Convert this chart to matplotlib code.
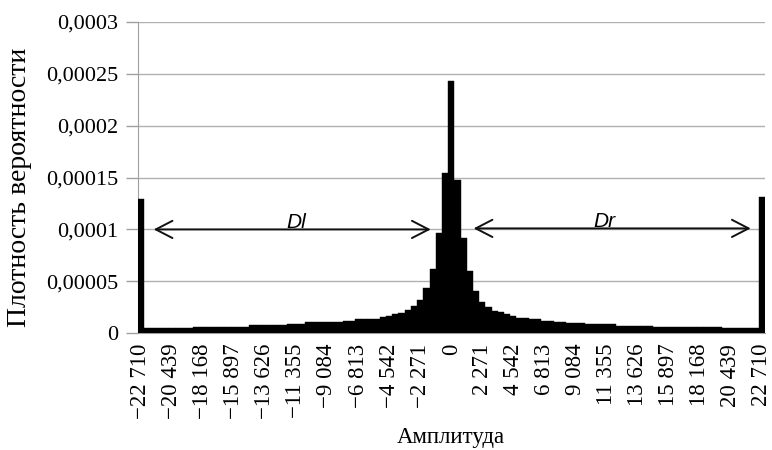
import numpy as np
import matplotlib
matplotlib.use("Agg")
import matplotlib.pyplot as plt

# Bar heights (probability density), 101 bins from -22710 to 22710
density = [
    129.3e-6,                                                     # -22710
    5.0e-6, 5.0e-6, 5.0e-6, 5.0e-6, 5.0e-6, 5.0e-6, 5.0e-6, 5.0e-6,
    6.5e-6, 6.5e-6, 6.5e-6, 6.5e-6, 6.5e-6, 6.5e-6, 6.5e-6, 6.5e-6, 6.5e-6,
    7.9e-6, 7.9e-6, 7.9e-6, 7.9e-6, 7.9e-6,
    8.2e-6, 8.8e-6, 8.8e-6, 8.8e-6,
    10.4e-6, 10.4e-6, 10.4e-6, 10.4e-6,
    11.1e-6, 11.1e-6, 12.3e-6, 12.3e-6, 13.3e-6, 13.3e-6,
    14.2e-6, 14.2e-6, 15.6e-6, 16.8e-6, 18.5e-6, 19.7e-6,
    22.6e-6, 26.4e-6, 32.2e-6, 43.5e-6, 62.0e-6, 96.3e-6, 154.0e-6,
    243.1e-6,                                                     # 0
    147.6e-6, 92.1e-6, 60.1e-6, 40.9e-6, 30.6e-6, 25.2e-6, 21.9e-6,
    20.4e-6, 18.5e-6, 16.8e-6, 15.2e-6, 15.2e-6, 13.7e-6, 13.7e-6,
    12.3e-6, 12.3e-6, 11.1e-6, 11.1e-6, 9.8e-6, 9.8e-6, 9.8e-6,
    8.8e-6, 8.8e-6, 8.5e-6, 8.5e-6, 8.5e-6,
    7.5e-6, 7.5e-6, 7.5e-6, 7.5e-6, 7.5e-6, 7.5e-6,
    6.5e-6, 6.5e-6, 6.5e-6, 6.5e-6, 6.5e-6, 6.5e-6, 6.5e-6, 6.5e-6, 6.5e-6, 6.5e-6, 6.5e-6,
    5.0e-6, 5.0e-6, 5.0e-6, 5.0e-6, 5.0e-6, 5.0e-6,
    131.2e-6,                                                     # 22710
]

tick_labels = ["−22 710", "−20 439", "−18 168", "−15 897", "−13 626", "−11 355",
               "−9 084", "−6 813", "−4 542", "−2 271", "0",
               "2 271", "4 542", "6 813", "9 084", "11 355", "13 626",
               "15 897", "18 168", "20 439", "22 710"]
label_step = 5

y_ticks = [0, 0.00005, 0.0001, 0.00015, 0.0002, 0.00025, 0.0003]
y_tick_labels = ["0", "0,00005", "0,0001", "0,00015", "0,0002", "0,00025", "0,0003"]

plt.rcParams['font.family'] = ['Liberation Serif', 'DejaVu Serif']

fig = plt.figure(figsize=(7.72, 4.5), dpi=100)
ax = fig.add_axes([137.5 / 772, 1 - 333.3 / 450, 627.5 / 772, (333.3 - 21.7) / 450])

x = np.arange(len(density))
ax.bar(x, density, width=1.0, color='black', edgecolor='black', linewidth=0.3, zorder=3)

ax.set_xlim(-0.5, len(density) - 0.5)
ax.set_ylim(0, 0.0003)

ax.set_yticks(y_ticks)
ax.set_yticklabels(y_tick_labels, fontsize=16)
ax.yaxis.grid(True, color='#b0b0b0', linewidth=1.0, zorder=0)
ax.set_axisbelow(True)
ax.tick_params(axis='y', length=8.5, width=1, color='#a0a0a0', pad=5.5)

ax.set_xticks(x[::label_step])
ax.set_xticklabels(tick_labels, rotation=90, fontsize=16.5, va='top', ha='center')
ax.tick_params(axis='x', length=0, pad=7.5)

for s in ['top', 'right']:
    ax.spines[s].set_visible(False)
ax.spines['left'].set_color('#a0a0a0')
ax.spines['bottom'].set_color('#a0a0a0')

ax.set_xlabel("Амплитуда", fontsize=16.5)
ax.xaxis.set_label_coords(0.5, -0.335)
ax.xaxis.label.set_va('center')
ax.set_ylabel("Плотность вероятности", fontsize=20)
ax.yaxis.set_label_coords(-0.188, 0.469)
ax.yaxis.label.set_va('center')

arrow_kw = dict(arrowstyle='<->,head_length=1.2,head_width=0.62', color='#111111', lw=1.4,
                shrinkA=0, shrinkB=0, mutation_scale=10)
ax.annotate('', xy=(2.1, 0.0001), xytext=(46.7, 0.0001), arrowprops=arrow_kw, zorder=5)
ax.annotate('', xy=(53.6, 0.000101), xytext=(98.2, 0.000101), arrowprops=arrow_kw, zorder=5)
ax.text(25.0, 0.0001015, 'Dl', fontsize=15, style='italic', family=['Liberation Sans'],
        ha='center', va='baseline', zorder=6)
ax.text(74.7, 0.0001025, 'Dr', fontsize=15, style='italic', family=['Liberation Sans'],
        ha='center', va='baseline', zorder=6)

fig.savefig('out.png', dpi=100)
